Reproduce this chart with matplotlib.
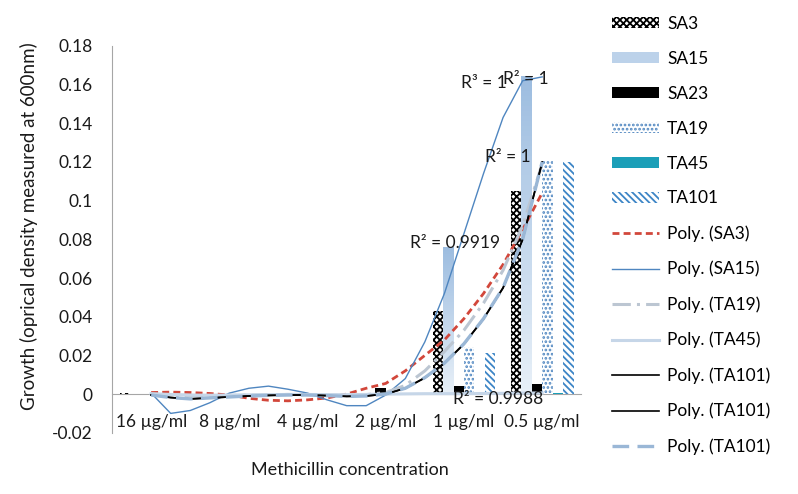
import numpy as np
import matplotlib
matplotlib.use("Agg")
import matplotlib.pyplot as plt
from matplotlib.colors import LinearSegmentedColormap

plt.rcParams['font.family'] = ['Lato', 'DejaVu Sans']
plt.rcParams['hatch.linewidth'] = 1.3

categories = ['16 µg/ml', '8 µg/ml', '4 µg/ml', '2 µg/ml', '1 µg/ml', '0.5 µg/ml']
series_names = ['SA3', 'SA15', 'SA23', 'TA19', 'TA45', 'TA101']
SA3 = [0.0008, 0.0, 0.0, 0.0, 0.043, 0.105]
SA15 = [0.0, 0.0, 0.0, 0.0, 0.076, 0.164]
SA23 = [0.0, 0.0, 0.0, 0.003, 0.004, 0.005]
TA19 = [0.0, 0.0, 0.0, 0.0, 0.0245, 0.121]
TA45 = [0.0, 0.0, 0.0, 0.0, 0.0, 0.0006]
TA101 = [0.0, 0.0, 0.0, 0.0, 0.021, 0.120]

# trendline curves (x in category units)
trend_x = [0, 0.25, 0.5, 0.75, 1.0, 1.25, 1.5, 1.75, 2.0, 2.25, 2.5,
           2.75, 3.0, 3.25, 3.5, 3.75, 4.0, 4.25, 4.5, 4.75, 5.0]
poly_SA3 = [0.0008, 0.001, 0.0008, 0.0003, -0.0005, -0.0022, -0.0032, -0.0035, -0.003, -0.002, 0.0,
            0.003, 0.0055, 0.012, 0.02, 0.028, 0.039, 0.052, 0.067, 0.085, 0.104]
poly_SA15 = [0.0005, -0.010, -0.0085, -0.0045, 0.0005, 0.003, 0.0041, 0.0025, 0.0005, -0.003, -0.006,
             -0.006, -0.0005, 0.008, 0.027, 0.052, 0.083, 0.114, 0.143, 0.162, 0.164]
poly_TA19 = [0.0, -0.0005, -0.001, -0.001, -0.0008, -0.0005, -0.0003, -0.0002, -0.0003, -0.0005, -0.0006,
             -0.0003, 0.0008, 0.0045, 0.012, 0.022, 0.033, 0.047, 0.064, 0.087, 0.119]
poly_TA45 = [0.0002, -0.0002, -0.0005, -0.0006, -0.0005, -0.0004, -0.0003, -0.0002, -0.0002, -0.0003, -0.0003,
             -0.0002, 0.0, 0.0001, 0.0002, 0.0002, 0.0002, 0.0003, 0.0004, 0.0005, 0.0006]
poly_TA101_a = [-0.0005, -0.0018, -0.0025, -0.002, -0.0015, -0.001, -0.0007, -0.0005, -0.0005, -0.0008, -0.0012,
                -0.001, 0.0, 0.003, 0.0085, 0.016, 0.026, 0.039, 0.055, 0.08, 0.12]
poly_TA101_b = [-0.0005, -0.0018, -0.0025, -0.002, -0.0015, -0.001, -0.0007, -0.0005, -0.0005, -0.0008, -0.0012,
                -0.001, 0.0, 0.003, 0.0083, 0.0158, 0.0258, 0.0388, 0.0548, 0.0798, 0.1198]
poly_TA101_c = [-0.0005, -0.0018, -0.0025, -0.002, -0.0015, -0.001, -0.0007, -0.0005, -0.0005, -0.0008, -0.0012,
                -0.001, 0.0, 0.003, 0.0085, 0.016, 0.026, 0.039, 0.055, 0.08, 0.12]

r2_labels = ['R² = 0.9919', 'R³ = 1', 'R² = 1', 'R² = 1', 'R² = 0.9988']
r2_pos = [(3.31, 0.078), (3.96, 0.161), (4.50, 0.163), (4.27, 0.1225), (3.86, -0.0025)]

fig = plt.figure(figsize=(7.98, 4.94), dpi=100)
ax = fig.add_axes([0.1404, 0.124, 0.588, 0.783])

x = np.arange(len(categories))
w = 0.134
values = [SA3, SA15, SA23, TA19, TA45, TA101]
styles = [
    dict(facecolor='white', edgecolor='black', hatch='xxxxx'),
    dict(facecolor='#bcd2ea', edgecolor='#bcd2ea'),
    dict(facecolor='black', edgecolor='black'),
    dict(facecolor='white', edgecolor='#4f86c0', hatch='....'),
    dict(facecolor='#1b9fb8', edgecolor='#1b9fb8'),
    dict(facecolor='white', edgecolor='#3d85c6', hatch='\\\\\\\\\\'),
]
bar_handles = []
for i, (vals, st) in enumerate(zip(values, styles)):
    bc = ax.bar(x + (i - 2.5) * w, vals, w, linewidth=0, label=series_names[i], zorder=2, **st)
    bar_handles.append(bc)

# gradient on SA15 bars
cmap = LinearSegmentedColormap.from_list('g', ['#e8f0f8', '#9dbde0'])
grad = np.linspace(0, 1, 64).reshape(-1, 1)
for p in bar_handles[1].patches:
    h = p.get_height()
    if h > 0.001:
        ax.imshow(grad, cmap=cmap, origin='lower', aspect='auto', zorder=2.1,
                  extent=[p.get_x(), p.get_x() + p.get_width(), 0, h])

line_specs = [
    (poly_SA3, 'Poly. (SA3)', dict(color='#d2473b', lw=2.0, ls=(0, (2.5, 1.5)))),
    (poly_SA15, 'Poly. (SA15)', dict(color='#4f86c0', lw=1.0, ls='-')),
    (poly_TA19, 'Poly. (TA19)', dict(color='#bcc6d2', lw=2.2, ls=(0, (6, 2, 1, 2)))),
    (poly_TA45, 'Poly. (TA45)', dict(color='#c6d6e8', lw=2.2, ls='-')),
    (poly_TA101_a, 'Poly. (TA101)', dict(color='black', lw=1.2, ls='-')),
    (poly_TA101_b, 'Poly. (TA101)', dict(color='black', lw=1.2, ls='-')),
    (poly_TA101_c, 'Poly. (TA101)', dict(color='#9ab7d6', lw=2.4, ls=(0, (5, 2.5)))),
]
line_handles = []
for ys, lab, st in line_specs:
    ln, = ax.plot(trend_x, ys, label=lab, zorder=3, **st)
    line_handles.append(ln)

for t, (px, py) in zip(r2_labels, r2_pos):
    ax.text(px, py, t, fontsize=12.5, ha='left', va='center', color='#1a1a1a', zorder=4)

ax.set_xlim(-0.5, 5.5)
ax.set_ylim(-0.02, 0.18)
ax.set_yticks(np.arange(-0.02, 0.181, 0.02))
ax.set_yticklabels(['-0.02', '0', '0.02', '0.04', '0.06', '0.08', '0.1', '0.12', '0.14', '0.16', '0.18'])
ax.set_xticks(x)
ax.set_xticklabels(categories)
ax.tick_params(axis='both', length=0, labelsize=12.5, colors='#1a1a1a')
ax.tick_params(axis='y', pad=14)
ax.tick_params(axis='x', pad=14)
for s in ['top', 'right']:
    ax.spines[s].set_visible(False)
ax.spines['bottom'].set_position(('data', 0))
ax.spines['bottom'].set_color('#a6a6a6')
ax.spines['left'].set_color('#a6a6a6')
ax.spines['bottom'].set_zorder(1)

ax.set_ylabel('Growth (oprical density measured at 600nm)', fontsize=13.5, color='#1a1a1a')
ax.yaxis.set_label_coords(-0.157, 0.535)
fig.text(0.438, 0.048, 'Methicillin concentration', fontsize=13, ha='center', va='center', color='#1a1a1a')

handles = bar_handles + line_handles
labels = series_names + [s[1] for s in line_specs]
leg = fig.legend(handles, labels, loc='upper left', bbox_to_anchor=(0.762, 0.975), frameon=False,
                 fontsize=12.5, handlelength=2.75, handleheight=0.6, labelspacing=1.09, handletextpad=0.45,
                 borderpad=0.2, borderaxespad=0)

fig.savefig('out.png', dpi=100)
